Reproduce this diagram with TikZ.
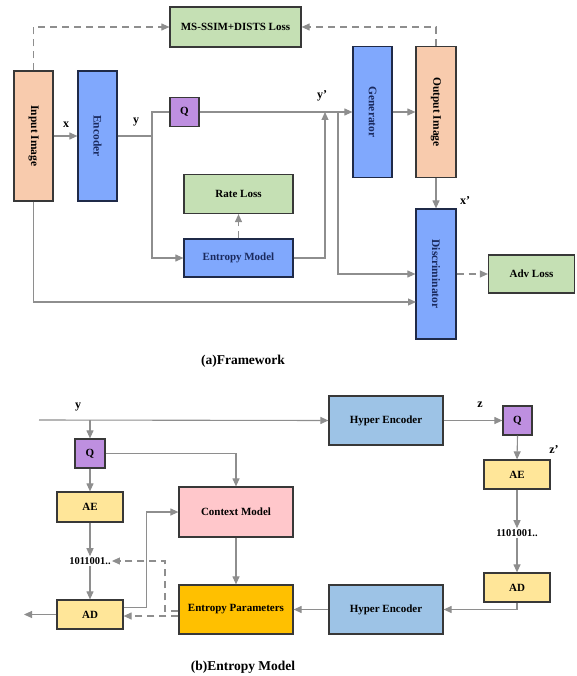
\documentclass[tikz,border=0pt]{standalone}
\usepackage{fontspec}
\setmainfont{Liberation Serif}
\usetikzlibrary{arrows.meta,calc}
\definecolor{bord}{HTML}{383838}
\definecolor{bordb}{HTML}{1F2A48}
\definecolor{lgray}{HTML}{8E8E8E}
\definecolor{peach}{HTML}{F8CBAD}
\definecolor{bblue}{HTML}{80A8FD}
\definecolor{lgreen}{HTML}{C5E0B4}
\definecolor{qpurple}{HTML}{BE8FE0}
\definecolor{cpink}{HTML}{FFC7CB}
\definecolor{lyellow}{HTML}{FFE699}
\definecolor{orng}{HTML}{FFC000}
\definecolor{hblue}{HTML}{9DC3E6}
\definecolor{navytext}{HTML}{1A2A5E}
\begin{document}
\begin{tikzpicture}[x=1pt,y=-1pt,
  box/.style={draw=bord, line width=1.2pt, inner sep=0pt, align=center,
    font=\bfseries\fontsize{11}{13}\selectfont},
  bluebox/.style={box, draw=bordb, fill=bblue, text=navytext},
  lbl/.style={font=\bfseries\fontsize{12}{14}\selectfont, inner sep=0pt},
  bits/.style={font=\bfseries\fontsize{10.5}{12}\selectfont, inner sep=1pt},
  captext/.style={font=\bfseries\fontsize{13.5}{16}\selectfont, inner sep=0pt},
  conn/.style={draw=lgray, line width=1.1pt},
  arr/.style={conn, -{Triangle[length=8pt,width=7pt]}},
  dashline/.style={dash pattern=on 7pt off 5pt}
]
\useasboundingbox (0,0) rectangle (576,676);

% ---------- (a) Framework ----------
\node[box, fill=lgreen, minimum width=131pt, minimum height=40pt] (loss) at (235.5,27) {MS-SSIM+DISTS Loss};
\node[box, fill=peach, minimum width=39pt, minimum height=130pt] (inp) at (33.5,136) {\rotatebox{-90}{\fontsize{11.5}{13}\selectfont Input Image}};
\node[bluebox, minimum width=39pt, minimum height=130pt] (enc) at (97.5,136) {\rotatebox{-90}{\fontsize{11.5}{13}\selectfont Encoder}};
\node[box, fill=qpurple, minimum width=29pt, minimum height=29pt] (q) at (184.5,112) {Q};
\node[box, fill=lgreen, minimum width=109pt, minimum height=39pt] (rate) at (238.5,194) {Rate Loss};
\node[bluebox, minimum width=109pt, minimum height=38pt] (em) at (238.5,258) {Entropy Model};
\node[bluebox, minimum width=39pt, minimum height=131pt] (gen) at (372.5,112) {\rotatebox{-90}{\fontsize{11.5}{13}\selectfont Generator}};
\node[box, fill=peach, minimum width=40pt, minimum height=131pt] (out) at (436,112) {\rotatebox{-90}{\fontsize{11.5}{13}\selectfont Output Image}};
\node[bluebox, minimum width=40pt, minimum height=130pt] (disc) at (436,274) {\rotatebox{-90}{\fontsize{11.5}{13}\selectfont Discriminator}};
\node[box, fill=lgreen, minimum width=86pt, minimum height=38pt] (adv) at (531.5,274) {Adv Loss};

\node[lbl] (lx) at (66,125) {x};
\node[lbl] (ly) at (136,122) {y};
\node[lbl] (lyp) at (322,96) {y'};
\node[lbl] (lxp) at (465,201) {x'};

\coordinate (ysplit) at (152,136);
\coordinate (yp) at (325,112);
\coordinate (yq) at (338,112);
\coordinate (d2) at (416,302);

\draw[arr, dashline] (inp.north) |- (loss.west);
\draw[arr, dashline] (out.north) |- (loss.east);
\draw[arr] (inp.east) -- (enc.west);
\draw[conn] (enc.east) -- (ysplit);
\draw[arr] (q.west) -- (q.west -| ysplit) |- (em.west);
\draw[arr] (q.east) -- (gen.west);
\draw[arr] (em.east) -| (yp);
\draw[arr] (yq) |- (disc.west);
\draw[arr] (inp.south) |- (d2);
\draw[arr] (gen.east) -- (out.west);
\draw[arr] (out.south) -- (disc.north);
\draw[arr, dashline] (em.north) -- (rate.south);
\draw[arr, dashline] (disc.east) -- (adv.west);

\node[captext] (capa) at (243,361) {(a)Framework};

% ---------- (b) Entropy Model ----------
\node[lbl] (ly2) at (78,407) {y};
\coordinate (ystart) at (39,420);
\coordinate (yq2) at (90,420);
\node[box, fill=hblue, minimum width=114pt, minimum height=49pt] (he1) at (386,420.5) {Hyper Encoder};
\node[box, fill=qpurple, minimum width=30pt, minimum height=29pt] (q2) at (90,453.5) {Q};
\node[box, fill=cpink, minimum width=114pt, minimum height=50pt] (cm) at (236,512) {Context Model};
\node[box, fill=lyellow, minimum width=66pt, minimum height=30pt] (ae1) at (90,507) {AE};
\node[bits] (bits1) at (90,561) {1011001..};
\node[box, fill=lyellow, minimum width=66pt, minimum height=29pt] (ad1) at (90,614.5) {AD};
\node[box, fill=orng, minimum width=114pt, minimum height=49pt] (ep) at (236,609.5) {Entropy Parameters};
\node[box, fill=hblue, minimum width=114pt, minimum height=49pt] (he2) at (386,609.5) {Hyper Encoder};
\node[box, fill=qpurple, minimum width=29pt, minimum height=29pt] (q3) at (517.5,420.5) {Q};
\node[box, fill=lyellow, minimum width=66pt, minimum height=29pt] (ae2) at (517,474.5) {AE};
\node[bits] (bits2) at (517,533) {1101001..};
\node[box, fill=lyellow, minimum width=66pt, minimum height=29pt] (ad2) at (517,587.5) {AD};
\node[lbl] (lz) at (480,405) {z};
\node[lbl] (lzp) at (554,450) {z'};

\coordinate (out1) at (24,614.5);
\coordinate (dj) at (165,561);
\coordinate (epu) at ([yshift=-1.5pt]ep.west);
\coordinate (epl) at ([yshift=-6.5pt]ep.west);
\coordinate (ads) at ([yshift=7pt]ad1.east);
\coordinate (cmj) at ([xshift=-32pt]cm.west);

\draw[arr] (ystart) -- (he1.west);
\draw[arr] (yq2) -- (q2.north);
\draw[arr] (q2.east) -| (cm.north);
\draw[arr] (q2.south) -- (ae1.north);
\draw[arr] (ae1.south) -- (bits1.north);
\draw[arr] (bits1.south) -- (ad1.north);
\draw[arr] (ad1.west) -- (out1);
\draw[arr] (ads) -| (cmj) -- (cm.west);
\draw[arr] (cm.south) -- (ep.north);
\draw[arr, dashline] (epu) -| (dj) -- (bits1.east);
\draw[arr, dashline] (epl) -- (epl -| ad1.east);
\draw[arr] (he2.west) -- (ep.east);
\draw[arr] (ad2.south) |- (he2.east);
\draw[arr] (he1.east) -- (q3.west);
\draw[arr] (q3.south) -- (ae2.north);
\draw[arr] (ae2.south) -- (bits2.north);
\draw[arr] (bits2.south) -- (ad2.north);

\node[captext] (capb) at (243,667) {(b)Entropy Model};
\end{tikzpicture}
\end{document}
